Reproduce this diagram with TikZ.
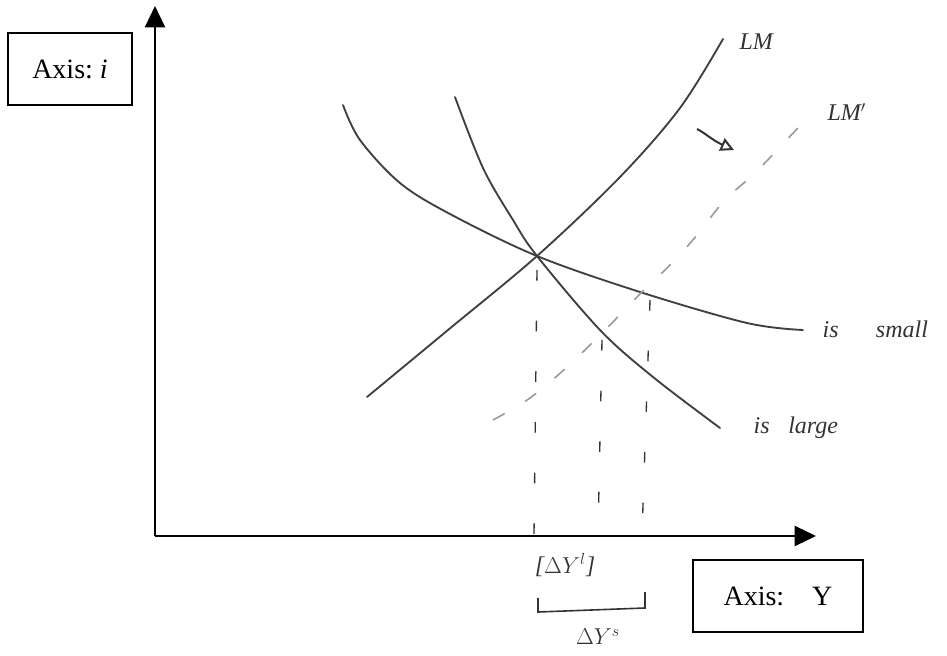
\documentclass[tikz,border=0pt]{standalone}
\usepackage{fontspec}
\setmainfont{Liberation Serif}
\usetikzlibrary{arrows.meta}
\begin{document}
\begin{tikzpicture}[x=0.75pt,y=-0.75pt,
  axisline/.style={line width=1.7pt, black, -{Triangle[length=16pt,width=15pt]}},
  curve/.style={line width=1.4pt, black!75, line cap=round},
  shifted/.style={line width=1.2pt, black!40, dash pattern=on 10pt off 18pt},
  guide/.style={line width=1pt, black!80, dash pattern=on 8pt off 30pt},
  axisbox/.style={draw, line width=1.5pt, minimum width=124*0.75pt, minimum height=72*0.75pt, inner sep=0pt, font=\fontsize{21}{24}\selectfont},
  hand/.style={font=\itshape\fontsize{18}{21}\selectfont, text=black!80, inner sep=1pt}
]
\useasboundingbox (0,0) rectangle (947,656);
% axes
\coordinate (O) at (155,536);
\coordinate (ytip) at (155,6);
\coordinate (xtip) at (816,536);
\draw[axisline] (O) -- (ytip);
\draw[axisline] (O) -- (xtip);
% boxes
\node[axisbox] (iBox) at (70,69) {Axis:~\textit{i}};
\node[axisbox, minimum width=170*0.75pt] (YBox) at (778,596) {Axis:\quad Y};
% equilibrium
\coordinate (E) at (537,256);
% IS small
\draw[curve] plot[smooth, tension=0.55] coordinates {(343,105) (360,140) (400,183) (450,214) (E) (640,292) (747,323) (803,330)};
% IS large
\draw[curve] plot[smooth, tension=0.55] coordinates {(455,97) (483,168) (513,220) (E) (600,330) (653,377) (720,428)};
% LM
\draw[curve] plot[smooth, tension=0.55] coordinates {(367,397) (448,330) (E) (620,177) (680,108) (723,39)};
% LM'
\draw[shifted] plot[smooth, tension=0.6] coordinates {(493,420) (530,398) (567,367) (607,328) (642,292) (672,263) (697,235) (725,200) (758,170) (808,117)};
% vertical guides
\coordinate (g1t) at (537,270); \coordinate (g1b) at (534,535);
\coordinate (g2t) at (602,340); \coordinate (g2b) at (598,535);
\coordinate (g3t) at (650,300); \coordinate (g3b) at (642,535);
\draw[guide] (g1t) -- (g1b);
\draw[guide] (g2t) -- (g2b);
\draw[guide] (g3t) -- (g3b);
% shift arrow
\coordinate (sa) at (697,129); \coordinate (sb) at (734,150);
\draw[line width=1.5pt, black!80, -{Triangle[open,length=10pt,width=10pt]}] (sa) .. controls (705,133) and (712,140) .. (sb);
% labels
\node[hand, anchor=west] (LM) at (738,42) {LM};
\node[hand, anchor=west] (LMp) at (826,112) {LM$'$};
\node[hand, anchor=west] (ISs) at (821,329) {is\hspace{28pt}small};
\node[hand, anchor=west] (ISl) at (752,428) {is\hspace{14pt}large};
\node[hand] (dYl) at (565,565) {[$\Delta Y^{l}$]};
\node[hand] (dYs) at (598,637) {$\Delta Y^{s}$};
% bracket
\coordinate (b1) at (538,598); \coordinate (b2) at (538,612);
\coordinate (b3) at (645,608); \coordinate (b4) at (645,592);
\draw[line width=1.2pt, black!80] (b1) -- (b2) -- (b3) -- (b4);
\end{tikzpicture}
\end{document}
